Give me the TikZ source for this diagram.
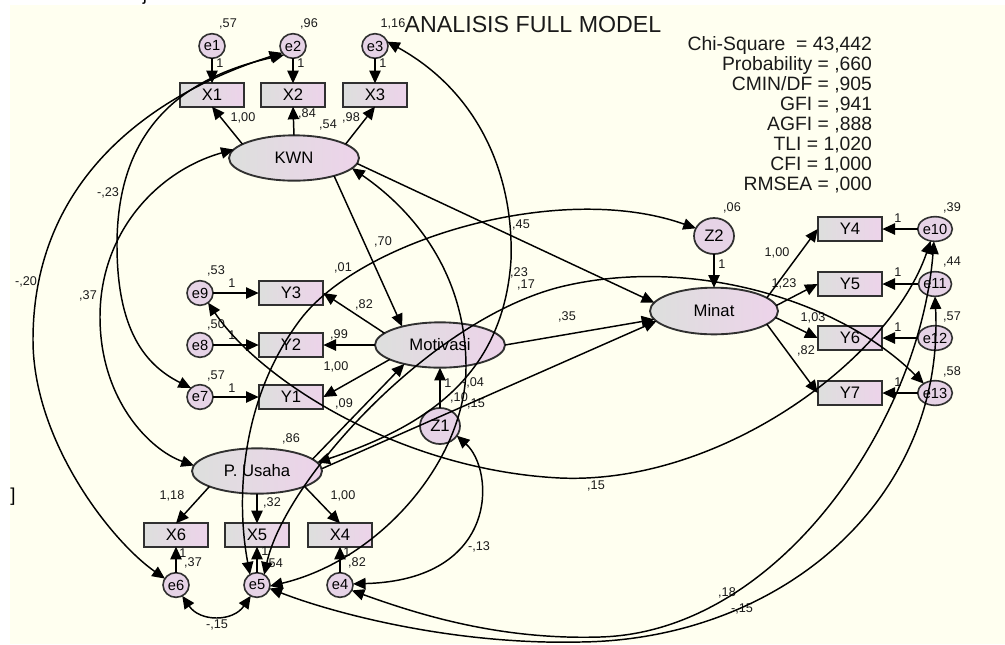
\documentclass[tikz,border=0pt]{standalone}
\usepackage{fontspec}
\setmainfont{Liberation Sans}
\usetikzlibrary{arrows.meta,shapes.geometric}
\definecolor{bgc}{HTML}{FFFFF0}
\definecolor{gl}{HTML}{DDDFDD}
\definecolor{pl}{HTML}{EDD3EA}
\definecolor{lil}{HTML}{E6D3E6}
\definecolor{bd}{HTML}{303030}
\definecolor{txt}{HTML}{1A1A1A}
\newcommand{\lbl}[3]{\node[lab] (#1) at (#2) {#3};}
\begin{document}
\begin{tikzpicture}[x=0.75pt,y=-0.75pt,
  every node/.style={inner sep=0pt,outer sep=0pt},
  obs/.style={rectangle,draw=bd,line width=1.4pt,minimum width=48.5pt,minimum height=17.5pt,left color=gl,right color=pl,font=\fontsize{12.5}{14}\selectfont},
  lat/.style={ellipse,draw=bd,line width=1.4pt,minimum width=97.5pt,minimum height=34pt,left color=gl,right color=pl,font=\fontsize{12.5}{14}\selectfont},
  err/.style={ellipse,draw=bd,line width=1.2pt,minimum width=19.5pt,minimum height=18.5pt,fill=lil,font=\fontsize{11}{12}\selectfont},
  dist/.style={ellipse,draw=bd,line width=1.3pt,minimum width=30pt,minimum height=27pt,fill=lil,font=\fontsize{12.5}{14}\selectfont},
  lab/.style={font=\fontsize{9.5}{10}\selectfont,text=txt},
  fitl/.style={anchor=east,font=\fontsize{14.5}{15}\selectfont,text=txt},
  arr/.style={line width=1.1pt,-{Triangle[length=9.5pt,width=8.5pt]}},
  cov/.style={line width=1.1pt,{Triangle[length=9.5pt,width=8.5pt]}-{Triangle[length=9.5pt,width=8.5pt]}},
]
\useasboundingbox (0,0) rectangle (1005,644);
\fill[white] (0,0) rectangle (1005,644);
\fill[bgc] (10,5) rectangle (1005,644);
\node[font=\fontsize{14}{14}\selectfont] (jj) at (145,-4) {j};
\node[font=\fontsize{14}{14}\selectfont] (br) at (13,497) {]};

% title and fit
\node[font=\fontsize{17.4}{18}\selectfont,text=txt] (title) at (533,25) {ANALISIS FULL MODEL};
\node[fitl] (f1) at (872,45) {Chi-Square\ \ = 43,442};
\node[fitl] (f2) at (872,65) {Probability = ,660};
\node[fitl] (f3) at (872,85) {CMIN/DF = ,905};
\node[fitl] (f4) at (872,105) {GFI = ,941};
\node[fitl] (f5) at (872,125) {AGFI = ,888};
\node[fitl] (f6) at (872,145) {TLI = 1,020};
\node[fitl] (f7) at (872,165) {CFI = 1,000};
\node[fitl] (f8) at (872,185) {RMSEA = ,000};

% nodes
\node[err] (e1) at (212,46) {e1};
\node[err] (e2) at (293,46) {e2};
\node[err] (e3) at (375,46) {e3};
\node[obs] (X1) at (212,95) {X1};
\node[obs] (X2) at (293,95) {X2};
\node[obs] (X3) at (375,95) {X3};
\node[lat] (KWN) at (294,158) {KWN};

\node[err] (e9) at (200,293) {e9};
\node[err] (e8) at (200,345) {e8};
\node[err] (e7) at (200,397) {e7};
\node[obs] (Y3) at (291,293) {Y3};
\node[obs] (Y2) at (291,345) {Y2};
\node[obs] (Y1) at (291,397) {Y1};
\node[lat] (Mot) at (440,345) {Motivasi};
\node[dist] (Z1) at (440,426) {Z1};

\node[lat] (PU) at (257,471) {P. Usaha};
\node[obs] (X6) at (176,535) {X6};
\node[obs] (X5) at (257,535) {X5};
\node[obs] (X4) at (340,535) {X4};
\node[err] (e6) at (176,585) {e6};
\node[err] (e5) at (257,585) {e5};
\node[err] (e4) at (340,585) {e4};

\node[dist] (Z2) at (714,236) {Z2};
\node[lat,minimum width=96pt,minimum height=35pt] (Min) at (714,311) {Minat};
\node[obs] (Y4) at (850,229) {Y4};
\node[obs] (Y5) at (850,284) {Y5};
\node[obs] (Y6) at (850,338) {Y6};
\node[obs] (Y7) at (850,393) {Y7};
\node[err] (e10) at (935,229) {e10};
\node[err] (e11) at (935,284) {e11};
\node[err] (e12) at (935,338) {e12};
\node[err] (e13) at (935,393) {e13};

% labels
\lbl{v1}{228,24}{,57}
\lbl{v2}{309,24}{,96}
\lbl{v3}{393,24}{1,16}
\lbl{o1}{220,63}{1}
\lbl{o2}{301,63}{1}
\lbl{o3}{383,63}{1}
\lbl{k1}{243,118}{1,00}
\lbl{k2}{307,114}{,84}
\lbl{k3}{351,118}{,98}
\lbl{vk}{328,125}{,54}
\lbl{c23}{108,193}{-,23}
\lbl{c20}{26,282}{-,20}
\lbl{c37}{88,296}{,37}
\lbl{vm9}{216,271}{,53}
\lbl{on9}{232,283}{1}
\lbl{vm8}{216,325}{,50}
\lbl{on8}{232,335}{1}
\lbl{vm7}{216,376}{,57}
\lbl{on7}{232,388}{1}
\lbl{m3}{364,305}{,82}
\lbl{m2}{339,335}{,99}
\lbl{m1}{336,367}{1,00}
\lbl{p70}{383,242}{,70}
\lbl{c01}{343,268}{,01}
\lbl{p45}{521,225}{,45}
\lbl{c23b}{519,273}{,23}
\lbl{c17}{526,285}{,17}
\lbl{p35}{567,317}{,35}
\lbl{oz1}{448,383}{1}
\lbl{c04}{473,383}{-,04}
\lbl{v10}{459,398}{,10}
\lbl{c15a}{476,404}{,15}
\lbl{p09}{344,404}{,09}
\lbl{vpu}{291,439}{,86}
\lbl{pu6}{172,496}{1,18}
\lbl{pu5}{272,503}{,32}
\lbl{pu4}{343,496}{1,00}
\lbl{o6}{183,553}{1}
\lbl{ve6}{193,563}{,37}
\lbl{o5}{265,551}{1}
\lbl{ve5}{274,564}{,54}
\lbl{o4}{347,552}{1}
\lbl{ve4}{357,563}{,82}
\lbl{c13}{479,547}{-,13}
\lbl{c15b}{217,625}{-,15}
\lbl{c15c}{596,486}{,15}
\lbl{c18}{727,593}{,18}
\lbl{c15d}{742,609}{-,15}
\lbl{vz2}{732,208}{,06}
\lbl{oz2}{722,264}{1}
\lbl{n4}{777,253}{1,00}
\lbl{n5}{784,284}{1,23}
\lbl{n6}{813,318}{1,03}
\lbl{n7}{806,351}{,82}
\lbl{oy4}{898,218}{1}
\lbl{oy5}{898,272}{1}
\lbl{oy6}{898,327}{1}
\lbl{oy7}{898,382}{1}
\lbl{ve10}{952,208}{,39}
\lbl{ve11}{952,262}{,44}
\lbl{ve12}{952,317}{,57}
\lbl{ve13}{952,372}{,58}

% measurement paths
\draw[arr] (e1) -- (X1);
\draw[arr] (e2) -- (X2);
\draw[arr] (e3) -- (X3);
\draw[arr] (KWN.165) -- (X1.south);
\draw[arr] (KWN.north) -- (X2.south);
\draw[arr] (KWN.15) -- (X3.south);
\draw[arr] (e9) -- (Y3);
\draw[arr] (e8) -- (Y2);
\draw[arr] (e7) -- (Y1);
\draw[arr] (Mot.168) -- (Y3.east);
\draw[arr] (Mot.west) -- (Y2.east);
\draw[arr] (Mot.196) -- (Y1.east);
\draw[arr] (PU.198) -- (X6.north);
\draw[arr] (PU.south) -- (X5.north);
\draw[arr] (PU.-18) -- (X4.north);
\draw[arr] (e6) -- (X6);
\draw[arr] (e5) -- (X5);
\draw[arr] (e4) -- (X4);
\draw[arr] (Min.14) -- (Y4.west);
\draw[arr] (Min.5) -- (Y5.west);
\draw[arr] (Min.-6) -- (Y6.west);
\draw[arr] (Min.-14) -- (Y7.west);
\draw[arr] (e10) -- (Y4);
\draw[arr] (e11) -- (Y5);
\draw[arr] (e12) -- (Y6);
\draw[arr] (e13) -- (Y7);
\draw[arr] (Z1) -- (Mot);
\draw[arr] (Z2) -- (Min);

% structural paths
\draw[arr] (KWN.-24) -- (Mot.154);
\draw[arr] (KWN.-5) -- (Min.172);
\draw[arr] (Mot.east) -- (Min.188);
\draw[arr] (PU.12) -- (Mot.208);
\draw[arr] (PU.2) -- (Min.190);

% covariances
\draw[cov] (e2.212) .. controls (150,95) and (33,180) .. (33,340) .. controls (33,440) and (110,540) .. (e6.150);
\draw[cov] (e2.225) .. controls (170,80) and (117,140) .. (117,245) .. controls (117,330) and (145,365) .. (e7.135);
\draw[cov] (KWN.172) .. controls (160,170) and (100,230) .. (100,317) .. controls (100,400) and (150,450) .. (PU.175);
\draw[cov] (KWN.-10) .. controls (420,215) and (466,280) .. (466,367) .. controls (466,460) and (380,560) .. (e5.-5);
\draw[cov] (e3.20) .. controls (475,90) and (514,170) .. (511,260) .. controls (503,380) and (420,428) .. (PU.8);
\draw[cov] (e5.124) .. controls (236,500) and (240,400) .. (300,320) .. controls (360,240) and (560,180) .. (Z2.157);
\draw[cov] (e5.55) .. controls (285,480) and (430,320) .. (560,287) .. controls (690,255) and (840,300) .. (e13.140);
\draw[cov] (e9.-50) .. controls (260,380) and (400,470) .. (560,478) .. controls (720,485) and (890,360) .. (e10.-110);
\draw[cov] (Z1.-30) .. controls (495,470) and (500,580) .. (e4.5);
\draw[cov] (e6.-60) .. controls (200,622) and (233,622) .. (e5.-120);
\draw[cov] (e4.-25) .. controls (420,615) and (500,640) .. (600,637) .. controls (780,632) and (920,420) .. (e10.-95);
\draw[cov] (e5.-15) .. controls (330,612) and (450,645) .. (580,642) .. controls (780,640) and (945,500) .. (e11.-90);
\end{tikzpicture}
\end{document}
